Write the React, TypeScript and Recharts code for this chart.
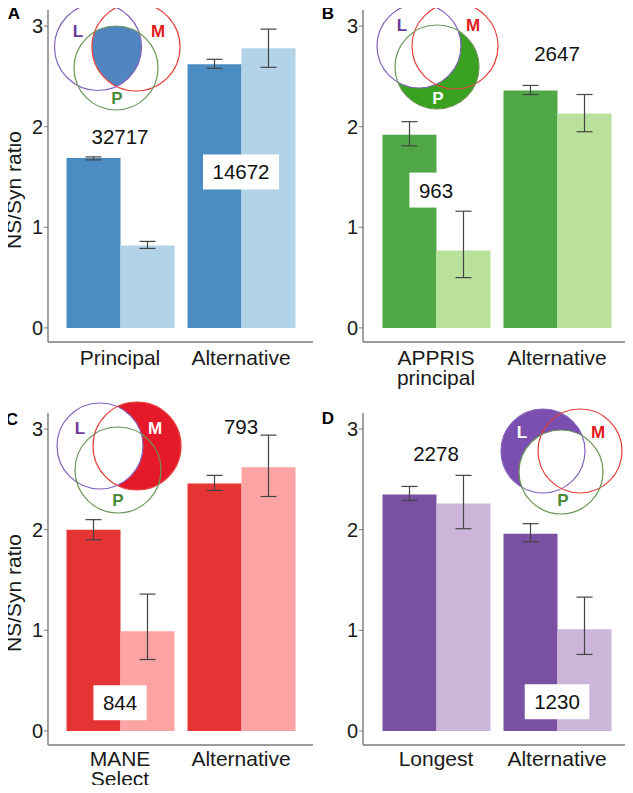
import React from "react";
import { BarChart, Bar, XAxis, YAxis, ErrorBar, ReferenceDot } from "recharts";

const FONT = "'Liberation Sans', Arial, Helvetica, sans-serif";

// panel A
const categoriesA = ["Principal", "Alternative"];
const darkA = [1.69, 2.62];
const darkLowA = [1.67, 2.58];
const darkHighA = [1.7, 2.67];
const lightA = [0.82, 2.78];
const lightLowA = [0.79, 2.59];
const lightHighA = [0.86, 2.97];
const countsA = [
  { cat: "Principal", y: 1.9, text: "32717", box: false },
  { cat: "Alternative", y: 1.55, text: "14672", box: true },
];

// panel B
const categoriesB = ["APPRIS\nprincipal", "Alternative"];
const darkB = [1.92, 2.36];
const darkLowB = [1.81, 2.32];
const darkHighB = [2.05, 2.41];
const lightB = [0.77, 2.13];
const lightLowB = [0.5, 1.95];
const lightHighB = [1.16, 2.32];
const countsB = [
  { cat: "APPRIS\nprincipal", y: 1.37, text: "963", box: true },
  { cat: "Alternative", y: 2.73, text: "2647", box: false },
];

// panel C
const categoriesC = ["MANE\nSelect", "Alternative"];
const darkC = [2.0, 2.46];
const darkLowC = [1.9, 2.39];
const darkHighC = [2.1, 2.54];
const lightC = [0.99, 2.62];
const lightLowC = [0.71, 2.33];
const lightHighC = [1.36, 2.94];
const countsC = [
  { cat: "MANE\nSelect", y: 0.28, text: "844", box: true },
  { cat: "Alternative", y: 3.03, text: "793", box: false },
];

// panel D
const categoriesD = ["Longest", "Alternative"];
const darkD = [2.35, 1.96];
const darkLowD = [2.29, 1.88];
const darkHighD = [2.43, 2.06];
const lightD = [2.26, 1.01];
const lightLowD = [2.01, 0.76];
const lightHighD = [2.54, 1.33];
const countsD = [
  { cat: "Longest", y: 2.76, text: "2278", box: false },
  { cat: "Alternative", y: 0.29, text: "1230", box: true },
];

const yTicks = [0, 1, 2, 3];

function buildRows(cats, dark, darkLow, darkHigh, light, lightLow, lightHigh) {
  return cats.map((c, i) => ({
    name: c,
    dark: dark[i],
    darkErr: [dark[i] - darkLow[i], darkHigh[i] - dark[i]],
    light: light[i],
    lightErr: [light[i] - lightLow[i], lightHigh[i] - light[i]],
  }));
}

function CatTick(props: any) {
  const { x, y, payload, off } = props;
  const lines = String(payload.value).split("\n");
  return (
    <text x={x} y={y + off} textAnchor="middle" fontSize={21} fill="#1a1a1a" fontFamily={FONT}>
      {lines.map((l, i) => (
        <tspan key={i} x={x} dy={i === 0 ? 0 : 20.5}>
          {l}
        </tspan>
      ))}
    </text>
  );
}

function CountLabel(props: any) {
  const { cx, cy, text, box } = props;
  const w = text.length * 11.4 + 19;
  const h = 35;
  return (
    <g>
      {box && <rect x={cx - w / 2} y={cy - h / 2} width={w} height={h} fill="#ffffff" />}
      <text x={cx} y={cy + 7.5} textAnchor="middle" fontSize={20.5} fill="#111" fontFamily={FONT}>
        {text}
      </text>
    </g>
  );
}

function YTitle(lp: any) {
  const vb = lp.viewBox;
  const ly = vb.y + vb.height / 2 + 14;
  return (
    <text
      x={13}
      y={ly}
      transform={`rotate(-90, 13, ${ly})`}
      textAnchor="middle"
      dominantBaseline="central"
      fontSize={21}
      fill="#1a1a1a"
      fontFamily={FONT}
    >
      NS/Syn ratio
    </text>
  );
}

function Panel(props: any) {
  const { left, top, width, height, margin, yWidth, xHeight, padding, rows, counts, darkColor, lightColor, yLabel, tickOff } = props;
  return (
    <div style={{ position: "absolute", left, top, width, height }}>
      <BarChart width={width} height={height} data={rows} margin={margin} barGap={0} barSize={54}>
        <XAxis
          dataKey="name"
          height={xHeight}
          padding={padding}
          axisLine={{ stroke: "#7a7a7a", strokeWidth: 1.4 }}
          tickLine={false}
          tickSize={0}
          tick={<CatTick off={tickOff} />}
          interval={0}
        />
        <YAxis
          type="number"
          width={yWidth}
          domain={[-0.14, 3.16]}
          ticks={yTicks}
          allowDataOverflow
          axisLine={{ stroke: "#7a7a7a", strokeWidth: 1.4 }}
          tickLine={{ stroke: "#7a7a7a" }}
          tickSize={4}
          tickMargin={1}
          tick={{ fontSize: 20, fill: "#1a1a1a", fontFamily: FONT }}
          label={yLabel ? YTitle : undefined}
        />
        <Bar dataKey="dark" fill={darkColor} isAnimationActive={false}>
          <ErrorBar dataKey="darkErr" width={8} stroke="#444" strokeWidth={1.2} direction="y" />
        </Bar>
        <Bar dataKey="light" fill={lightColor} isAnimationActive={false}>
          <ErrorBar dataKey="lightErr" width={8} stroke="#444" strokeWidth={1.2} direction="y" />
        </Bar>
        {counts.map((c, i) => (
          <ReferenceDot
            key={i}
            x={c.cat}
            y={c.y}
            r={0}
            ifOverflow="visible"
            shape={(sp: any) => <CountLabel cx={sp.cx} cy={sp.cy} text={c.text} box={c.box} />}
          />
        ))}
      </BarChart>
    </div>
  );
}

const L_STROKE = "#8462bb";
const M_STROKE = "#e5403c";
const P_STROKE = "#6b9657";

function Venn(props: any) {
  const { id, l, m, p, fill, mode, lblL, lblM, lblP } = props;
  const circ = (c, extra) => <circle cx={c[0]} cy={c[1]} r={c[2]} {...extra} />;
  let region = null;
  if (mode === "all") {
    region = (
      <g clipPath={`url(#${id}-L)`}>
        <g clipPath={`url(#${id}-M)`}>{circ(p, { fill })}</g>
      </g>
    );
  } else {
    const [keep, cut] = mode === "PnoL" ? [p, l] : mode === "MnoL" ? [m, l] : [l, p];
    region = (
      <>
        <mask id={`${id}-mask`} maskUnits="userSpaceOnUse" x={0} y={0} width={633} height={793}>
          <rect x={0} y={0} width={633} height={793} fill="black" />
          {circ(keep, { fill: "white" })}
          {circ(cut, { fill: "black" })}
        </mask>
        <rect x={0} y={0} width={633} height={793} fill={fill} mask={`url(#${id}-mask)`} />
      </>
    );
  }
  const lbl = (pos, txt) => (
    <text x={pos[0]} y={pos[1]} textAnchor="middle" dominantBaseline="central" fontSize={17} fontWeight="bold" fill={pos[2]} fontFamily={FONT}>
      {txt}
    </text>
  );
  return (
    <g>
      <defs>
        <clipPath id={`${id}-L`}>{circ(l, {})}</clipPath>
        <clipPath id={`${id}-M`}>{circ(m, {})}</clipPath>
      </defs>
      {region}
      {circ(l, { fill: "none", stroke: L_STROKE, strokeWidth: 1.2 })}
      {circ(m, { fill: "none", stroke: M_STROKE, strokeWidth: 1.2 })}
      {circ(p, { fill: "none", stroke: P_STROKE, strokeWidth: 1.2 })}
      {lbl(lblL, "L")}
      {lbl(lblM, "M")}
      {lbl(lblP, "P")}
    </g>
  );
}

export default function App() {
  const rowsA = buildRows(categoriesA, darkA, darkLowA, darkHighA, lightA, lightLowA, lightHighA);
  const rowsB = buildRows(categoriesB, darkB, darkLowB, darkHighB, lightB, lightLowB, lightHighB);
  const rowsC = buildRows(categoriesC, darkC, darkLowC, darkHighC, lightC, lightLowC, lightHighC);
  const rowsD = buildRows(categoriesD, darkD, darkLowD, darkHighD, lightD, lightLowD, lightHighD);

  const topMargin = { top: 10, right: 3, bottom: 0, left: 0 };
  const topMarginR = { top: 10, right: 8, bottom: 0, left: 0 };
  const botMargin = { top: 18, right: 3, bottom: 0, left: 0 };
  const botMarginR = { top: 18, right: 8, bottom: 0, left: 0 };

  return (
    <div style={{ position: "relative", width: 633, height: 793, margin: -8, background: "#fff", fontFamily: FONT }}>
      <Panel left={0} top={0} width={316} height={395} margin={topMargin} yWidth={48} xHeight={53} tickOff={20.5}
        padding={{ left: 11.5, right: 11.5 }} rows={rowsA} counts={countsA} darkColor="#4b8dc3" lightColor="#b3d4e8" yLabel />
      <Panel left={316} top={0} width={317} height={395} margin={topMarginR} yWidth={47} xHeight={53} tickOff={20.5}
        padding={{ left: 12.5, right: 7.5 }} rows={rowsB} counts={countsB} darkColor="#4fa845" lightColor="#bae19b" />
      <Panel left={0} top={395} width={316} height={398} margin={botMargin} yWidth={48} xHeight={48} tickOff={18.5}
        padding={{ left: 11.5, right: 11.5 }} rows={rowsC} counts={countsC} darkColor="#e53434" lightColor="#fba4a3" yLabel />
      <Panel left={316} top={395} width={317} height={398} margin={botMarginR} yWidth={47} xHeight={48} tickOff={18.5}
        padding={{ left: 12.5, right: 7.5 }} rows={rowsD} counts={countsD} darkColor="#7a50a3" lightColor="#cbb6da" />

      <svg width={633} height={793} style={{ position: "absolute", left: 0, top: 0, pointerEvents: "none" }}>
        <Venn id="vA" mode="all" fill="#4f86c2"
          l={[98, 47, 43.5]} m={[136, 47, 44]} p={[116, 68, 42]}
          lblL={[78, 31, "#6a3d9a"]} lblM={[158, 31, "#e31a1c"]} lblP={[117, 98, "#4a8a3a"]} />
        <Venn id="vB" mode="PnoL" fill="#38a11f"
          l={[419, 46, 42]} m={[455, 46, 43]} p={[437, 67, 42]}
          lblL={[402, 25, "#6a3d9a"]} lblM={[473, 25, "#e31a1c"]} lblP={[438, 98, "#ffffff"]} />
        <Venn id="vC" mode="MnoL" fill="#e6192b"
          l={[100, 446, 43]} m={[137, 446, 44]} p={[118, 470, 43]}
          lblL={[80, 428, "#6a3d9a"]} lblM={[155, 428, "#ffffff"]} lblP={[118, 500, "#4a8a3a"]} />
        <Venn id="vD" mode="LnoP" fill="#7a4fb0"
          l={[543, 451, 42]} m={[580, 451, 42]} p={[561, 472, 42]}
          lblL={[522, 432, "#ffffff"]} lblM={[598, 432, "#e31a1c"]} lblP={[563, 500, "#4a8a3a"]} />

        <text x={14} y={19} textAnchor="middle" fontSize={17} fontWeight="bold" fontFamily={FONT} fill="#000">A</text>
        <text x={328} y={19} textAnchor="middle" fontSize={17} fontWeight="bold" fontFamily={FONT} fill="#000">B</text>
        <text x={12} y={425} textAnchor="middle" fontSize={17} fontWeight="bold" fontFamily={FONT} fill="#000">C</text>
        <text x={328} y={424} textAnchor="middle" fontSize={17} fontWeight="bold" fontFamily={FONT} fill="#000">D</text>
      </svg>
    </div>
  );
}
